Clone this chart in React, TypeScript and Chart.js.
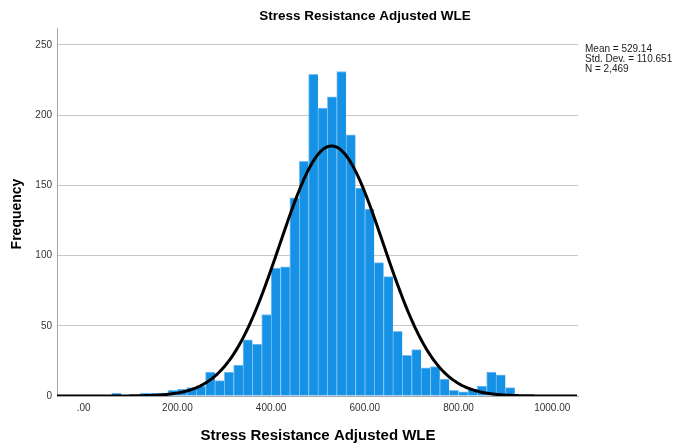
import React, { useEffect, useRef } from "react";
import { Chart, registerables } from "chart.js";

Chart.register(...registerables);

// ---- data ----
const BIN_WIDTH = 20;
const binStarts = [
  60, 120, 140, 160, 180, 200, 220, 240, 260, 280, 300, 320, 340, 360, 380,
  400, 420, 440, 460, 480, 500, 520, 540, 560, 580, 600, 620, 640, 660, 680,
  700, 720, 740, 760, 780, 800, 820, 840, 860, 880, 900,
];
const frequencies = [
  2, 2, 2, 2, 4, 5, 6, 7, 17, 11, 17, 22, 40, 37, 58,
  91, 92, 141, 167, 229, 205, 213, 231, 186, 148, 133, 95, 85, 46, 29,
  33, 20, 21, 12, 4, 3, 5, 7, 17, 15, 6,
];
const xTickValues = [0, 200, 400, 600, 800, 1000];
const yTickValues = [0, 50, 100, 150, 200, 250];
const X_MIN = -57;
const X_MAX = 1055;
const Y_MAX = 262;
const MEAN = 529.14;
const STD_DEV = 110.651;
const N = 2469;
const statsLines = ["Mean = 529.14", "Std. Dev. = 110.651", "N = 2,469"];
const chartTitle = "Stress Resistance Adjusted WLE";
const xAxisTitle = "Stress Resistance Adjusted WLE";
const yAxisTitle = "Frequency";

const FONT = "'Liberation Sans', Arial, sans-serif";

function fmtX(v: number): string {
  if (v === 0) return ".00";
  return v.toFixed(2);
}

export default function App() {
  const ref = useRef<HTMLCanvasElement | null>(null);

  useEffect(() => {
    if (!ref.current) return;

    const bars = binStarts.map((s, i) => ({ x: s + BIN_WIDTH / 2, y: frequencies[i] }));
    // fitted normal curve from the displayed statistics
    const curve: { x: number; y: number }[] = [];
    for (let x = X_MIN; x <= X_MAX; x += 3) {
      const z = (x - MEAN) / STD_DEV;
      const y = (N * BIN_WIDTH) / (STD_DEV * Math.sqrt(2 * Math.PI)) * Math.exp(-0.5 * z * z);
      curve.push({ x, y });
    }

    const textPlugin = {
      id: "texts",
      afterDraw(chart: any) {
        const ctx = chart.ctx;
        ctx.save();
        ctx.fillStyle = "#000";
        ctx.textBaseline = "middle";
        // title
        ctx.font = `bold 13.5px ${FONT}`;
        ctx.textAlign = "center";
        ctx.fillText(chartTitle, 365, 16);
        // x axis title
        ctx.font = `bold 15px ${FONT}`;
        ctx.fillText(xAxisTitle, 318, 436);
        // y axis title
        ctx.save();
        ctx.translate(17, 214);
        ctx.rotate(-Math.PI / 2);
        ctx.font = `bold 14px ${FONT}`;
        ctx.fillText(yAxisTitle, 0, 0);
        ctx.restore();
        // stats
        ctx.font = `10px ${FONT}`;
        ctx.textAlign = "left";
        ctx.fillStyle = "#222";
        statsLines.forEach((t, i) => ctx.fillText(t, 585, 49 + i * 10));
        ctx.restore();
      },
    };

    const chart = new Chart(ref.current, {
      type: "bar",
      data: {
        datasets: [
          {
            type: "line",
            data: curve,
            borderColor: "#000",
            borderWidth: 3,
            pointRadius: 0,
            tension: 0,
            fill: false,
            order: 0,
          } as any,
          {
            type: "bar",
            data: bars,
            backgroundColor: "#1592e6",
            borderColor: "#7cc0f2",
            borderWidth: { left: 1, top: 1, right: 0, bottom: 0 },
            borderSkipped: false,
            barPercentage: 1,
            categoryPercentage: 1,
            order: 1,
          } as any,
        ],
      },
      options: {
        responsive: false,
        animation: false,
        layout: { padding: { top: 28, right: 96, left: 0, bottom: 0 } },
        plugins: {
          legend: { display: false },
          title: { display: false },
          tooltip: { enabled: false },
        },
        scales: {
          x: {
            type: "linear",
            min: X_MIN,
            max: X_MAX,
            offset: false,
            grid: { display: false, drawTicks: false },
            border: { display: true, color: "#a6a6a6", width: 1 },
            afterBuildTicks: (scale: any) => {
              scale.ticks = xTickValues.map((v) => ({ value: v }));
            },
            afterFit: (scale: any) => {
              scale.height = 51;
            },
            ticks: {
              autoSkip: false,
              maxRotation: 0,
              padding: 6,
              color: "#333",
              font: { family: FONT, size: 10 },
              callback: (v: any) => fmtX(Number(v)),
            },
          },
          y: {
            type: "linear",
            min: 0,
            max: Y_MAX,
            grid: { color: "#c8c8c8", lineWidth: 1, drawTicks: false },
            border: { display: true, color: "#a6a6a6", width: 1 },
            afterBuildTicks: (scale: any) => {
              scale.ticks = yTickValues.map((v) => ({ value: v }));
            },
            afterFit: (scale: any) => {
              scale.width = 57;
            },
            ticks: {
              padding: 5,
              color: "#333",
              font: { family: FONT, size: 10 },
              callback: (v: any) => String(v),
            },
          },
        },
      },
      plugins: [textPlugin],
    });

    return () => chart.destroy();
  }, []);

  return (
    <div style={{ position: "absolute", left: 0, top: 0, width: 674, height: 447, background: "#fff" }}>
      <canvas ref={ref} width={674} height={447} style={{ display: "block" }} />
    </div>
  );
}
